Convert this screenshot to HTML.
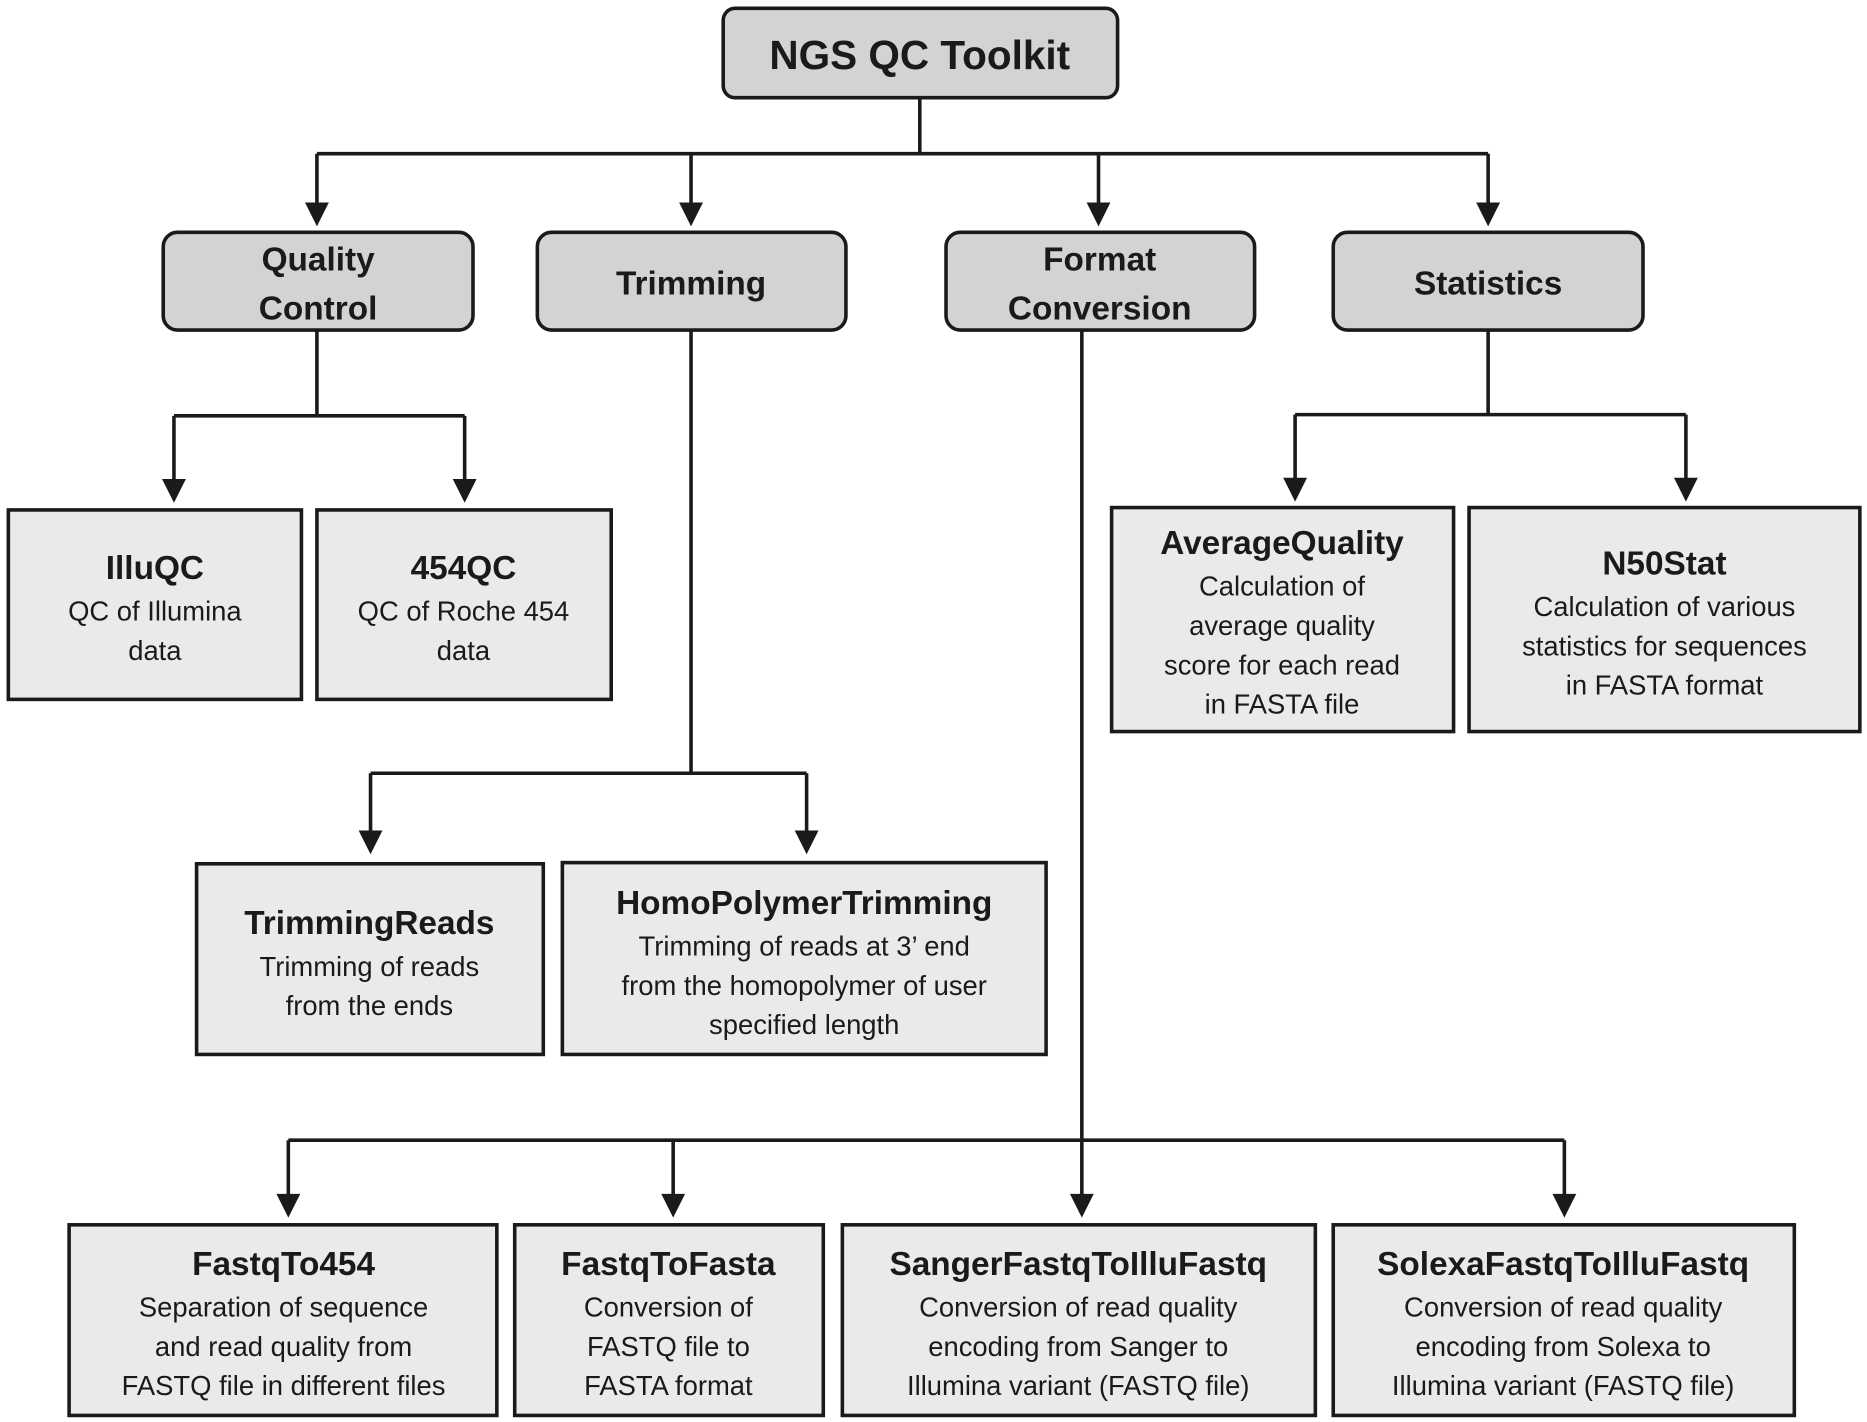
<!DOCTYPE html>
<html><head><meta charset="utf-8"><style>
html,body{margin:0;padding:0;background:#fff;}
svg{display:block;}
text{font-family:"Liberation Sans",sans-serif;fill:#1a1a1a;text-anchor:middle;}
.t{font-weight:bold;font-size:28px;}
.d{font-size:23px;}
.c{font-weight:bold;font-size:28px;}
</style></head><body>
<svg width="1867" height="1422" viewBox="0 0 1567 1193.5" preserveAspectRatio="none" xmlns="http://www.w3.org/2000/svg">
<g stroke="#1a1a1a" stroke-width="3" fill="none">
<path d="M772 82V129M266 129H1249M266 129V172M580 129V172M922 129V172M1249 129V172"/>
<path d="M266 277V349M146 349H390M146 349V404M390 349V404"/>
<path d="M580 277V649M311 649H677M311 649V699M677 649V699"/>
<path d="M908 277V957M242 957H1313M242 957V1004M565 957V1004M908 957V1004M1313 957V1004"/>
<path d="M1249 277V348M1087 348H1415M1087 348V403M1415 348V403"/>
</g>
<g fill="#1a1a1a">
<polygon points="256,170 276,170 266,190"/><polygon points="570,170 590,170 580,190"/><polygon points="912,170 932,170 922,190"/><polygon points="1239,170 1259,170 1249,190"/>
<polygon points="136,402 156,402 146,422"/><polygon points="380,402 400,402 390,422"/>
<polygon points="301,697 321,697 311,717"/><polygon points="667,697 687,697 677,717"/>
<polygon points="232,1002 252,1002 242,1022"/><polygon points="555,1002 575,1002 565,1022"/><polygon points="898,1002 918,1002 908,1022"/><polygon points="1303,1002 1323,1002 1313,1022"/>
<polygon points="1077,401 1097,401 1087,421"/><polygon points="1405,401 1425,401 1415,421"/>
</g>
<g stroke="#1a1a1a" stroke-width="3">
<rect x="607" y="7" width="331" height="75" rx="10" fill="#d3d3d3"/>
<rect x="137" y="195" width="260" height="82" rx="12" fill="#d3d3d3"/>
<rect x="451" y="195" width="259" height="82" rx="12" fill="#d3d3d3"/>
<rect x="794" y="195" width="259" height="82" rx="12" fill="#d3d3d3"/>
<rect x="1119" y="195" width="260" height="82" rx="12" fill="#d3d3d3"/>
<g fill="#e9eaec">
<rect x="7" y="428" width="246" height="159"/>
<rect x="266" y="428" width="247" height="159"/>
<rect x="165" y="725" width="291" height="160"/>
<rect x="472" y="724" width="406" height="161"/>
<rect x="933" y="426" width="287" height="188"/>
<rect x="1233" y="426" width="328" height="188"/>
<rect x="58" y="1028" width="359" height="160"/>
<rect x="432" y="1028" width="259" height="160"/>
<rect x="707" y="1028" width="397" height="160"/>
<rect x="1119" y="1028" width="387" height="160"/>
</g>
</g>
<text x="772" y="58" style="font-weight:bold;font-size:34px">NGS QC Toolkit</text>
<text class="c" x="267" y="227">Quality</text><text class="c" x="267" y="268">Control</text>
<text class="c" x="580" y="247">Trimming</text>
<text class="c" x="923" y="227">Format</text><text class="c" x="923" y="268">Conversion</text>
<text class="c" x="1249" y="247">Statistics</text>
<text class="t" x="130" y="486">IlluQC</text><text class="d" x="130" y="521">QC of Illumina</text><text class="d" x="130" y="554">data</text>
<text class="t" x="389" y="486">454QC</text><text class="d" x="389" y="521">QC of Roche 454</text><text class="d" x="389" y="554">data</text>
<text class="t" x="310" y="784">TrimmingReads</text><text class="d" x="310" y="819">Trimming of reads</text><text class="d" x="310" y="852">from the ends</text>
<text class="t" x="675" y="767">HomoPolymerTrimming</text><text class="d" x="675" y="802">Trimming of reads at 3’ end</text><text class="d" x="675" y="835">from the homopolymer of user</text><text class="d" x="675" y="868">specified length</text>
<text class="t" x="1076" y="465">AverageQuality</text><text class="d" x="1076" y="500">Calculation of</text><text class="d" x="1076" y="533">average quality</text><text class="d" x="1076" y="566">score for each read</text><text class="d" x="1076" y="599">in FASTA file</text>
<text class="t" x="1397" y="482">N50Stat</text><text class="d" x="1397" y="517">Calculation of various</text><text class="d" x="1397" y="550">statistics for sequences</text><text class="d" x="1397" y="583">in FASTA format</text>
<text class="t" x="238" y="1070">FastqTo454</text><text class="d" x="238" y="1105">Separation of sequence</text><text class="d" x="238" y="1138">and read quality from</text><text class="d" x="238" y="1171">FASTQ file in different files</text>
<text class="t" x="561" y="1070">FastqToFasta</text><text class="d" x="561" y="1105">Conversion of</text><text class="d" x="561" y="1138">FASTQ file to</text><text class="d" x="561" y="1171">FASTA format</text>
<text class="t" x="905" y="1070">SangerFastqToIlluFastq</text><text class="d" x="905" y="1105">Conversion of read quality</text><text class="d" x="905" y="1138">encoding from Sanger to</text><text class="d" x="905" y="1171">Illumina variant (FASTQ file)</text>
<text class="t" x="1312" y="1070">SolexaFastqToIlluFastq</text><text class="d" x="1312" y="1105">Conversion of read quality</text><text class="d" x="1312" y="1138">encoding from Solexa to</text><text class="d" x="1312" y="1171">Illumina variant (FASTQ file)</text>
</svg>
</body></html>
